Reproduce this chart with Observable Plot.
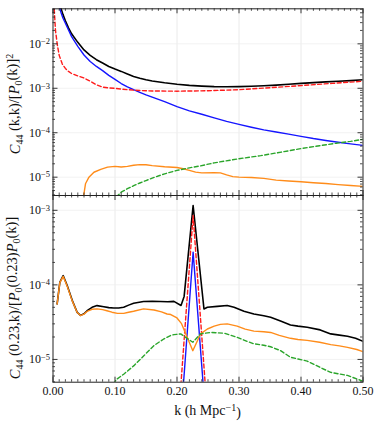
<!DOCTYPE html>
<html><head><meta charset="utf-8">
<script src="https://cdn.jsdelivr.net/npm/d3@7"></script>
<script src="https://cdn.jsdelivr.net/npm/@observablehq/plot@0.6"></script>
<style>
html,body{margin:0;padding:0;background:#fff;}
#chart{position:relative;width:374px;height:421px;font-family:"Liberation Serif",serif;}
#chart svg{position:absolute;left:0;}
</style></head><body><div id="chart"></div>
<script>
// ---------- DATA ----------
const xMajorTicks = [0, 0.1, 0.2, 0.3, 0.4, 0.5];
const xTickLabels = ["0.00", "0.10", "0.20", "0.30", "0.40", "0.50"];
const topYTicks = [1e-5, 1e-4, 1e-3, 1e-2];
const topYExp = ["−5", "−4", "−3", "−2"];
const botYTicks = [1e-5, 1e-4, 1e-3];
const botYExp = ["−5", "−4", "−3"];

// top panel: C44(k,k)/[P0(k)]^2
const topTotal = [[0.010,0.095],[0.013,0.062],[0.016,0.046],[0.02,0.033],[0.025,0.023],[0.03,0.0168],[0.04,0.0108],[0.05,0.0073],[0.06,0.0055],[0.07,0.0044],[0.08,0.0037],[0.09,0.0031],[0.10,0.0027],[0.11,0.0024],[0.12,0.0021],[0.13,0.00184],[0.14,0.00168],[0.15,0.00155],[0.16,0.00146],[0.18,0.00133],[0.20,0.00123],[0.22,0.00116],[0.24,0.00112],[0.26,0.00109],[0.28,0.00108],[0.30,0.00109],[0.32,0.00111],[0.34,0.00114],[0.36,0.00118],[0.38,0.00123],[0.40,0.00129],[0.42,0.00134],[0.44,0.00139],[0.46,0.00144],[0.48,0.00149],[0.50,0.00155]];
const topGauss = [[0.008,0.11],[0.011,0.062],[0.013,0.05],[0.016,0.038],[0.02,0.029],[0.025,0.0205],[0.03,0.0145],[0.04,0.0088],[0.05,0.0056],[0.06,0.0040],[0.07,0.0031],[0.08,0.0025],[0.09,0.00195],[0.10,0.00158],[0.11,0.00128],[0.12,0.00108],[0.13,0.00093],[0.14,0.00081],[0.15,0.00071],[0.16,0.00063],[0.18,0.0005],[0.20,0.000385],[0.22,0.00031],[0.24,0.00026],[0.26,0.000215],[0.28,0.00018],[0.30,0.000154],[0.32,0.000133],[0.34,0.000116],[0.36,0.000104],[0.38,0.000093],[0.40,0.000083],[0.42,0.000074],[0.44,0.000067],[0.46,0.000061],[0.48,0.000056],[0.50,0.000052]];
const topConn = [[0.002,0.06],[0.004,0.02],[0.007,0.0095],[0.01,0.0055],[0.015,0.0035],[0.02,0.0028],[0.025,0.0024],[0.03,0.00215],[0.04,0.0019],[0.05,0.0017],[0.06,0.00145],[0.07,0.0012],[0.08,0.00106],[0.09,0.00102],[0.10,0.001],[0.11,0.00096],[0.12,0.00093],[0.14,0.00089],[0.16,0.00087],[0.20,0.00086],[0.25,0.00088],[0.30,0.00093],[0.35,0.00103],[0.40,0.00115],[0.45,0.00129],[0.50,0.00144]];
const topMixed = [[0.049,3.5e-6],[0.0524,7.1e-6],[0.058,1.0e-5],[0.066,1.29e-5],[0.077,1.5e-5],[0.088,1.68e-5],[0.1,1.75e-5],[0.11,1.7e-5],[0.12,1.75e-5],[0.13,1.85e-5],[0.14,1.92e-5],[0.15,1.9e-5],[0.16,1.82e-5],[0.18,1.72e-5],[0.2,1.65e-5],[0.21,1.55e-5],[0.22,1.42e-5],[0.23,1.3e-5],[0.24,1.25e-5],[0.26,1.26e-5],[0.27,1.25e-5],[0.28,1.13e-5],[0.29,1.03e-5],[0.30,1.0e-5],[0.32,9.8e-6],[0.34,9.4e-6],[0.36,8.6e-6],[0.38,8.2e-6],[0.40,7.9e-6],[0.42,7.5e-6],[0.44,7.2e-6],[0.46,6.8e-6],[0.48,6.5e-6],[0.50,6.2e-6]];
const topNonG = [[0.102,3.6e-6],[0.11,4.6e-6],[0.12,5.5e-6],[0.131,6.5e-6],[0.14,7.4e-6],[0.15,8.4e-6],[0.16,9.5e-6],[0.172,1.09e-5],[0.18,1.19e-5],[0.2,1.42e-5],[0.22,1.62e-5],[0.238,1.8e-5],[0.26,2.1e-5],[0.3,2.6e-5],[0.335,3.05e-5],[0.37,3.7e-5],[0.4,4.4e-5],[0.43,5.1e-5],[0.457,5.8e-5],[0.48,6.4e-5],[0.5,7.1e-5]];

// bottom panel: C44(0.23,k)/[P0(0.23)P0(k)]
const botTotal = [[0.0067,5.55e-5],[0.011,1.08e-4],[0.0164,1.33e-4],[0.0229,9.8e-5],[0.031,6.2e-5],[0.039,4.28e-5],[0.0444,3.9e-5],[0.05,4.1e-5],[0.055,4.5e-5],[0.063,5.0e-5],[0.071,5.27e-5],[0.082,5.1e-5],[0.09,4.95e-5],[0.098,4.9e-5],[0.106,4.9e-5],[0.114,5.0e-5],[0.122,5.35e-5],[0.13,5.67e-5],[0.146,5.97e-5],[0.16,6.0e-5],[0.173,5.97e-5],[0.185,5.95e-5],[0.195,6.0e-5],[0.2065,5.3e-5],[0.2115,7.0e-5],[0.226,1.16e-3],[0.2435,4.75e-5],[0.249,5.0e-5],[0.265,5.15e-5],[0.281,5.3e-5],[0.292,5.0e-5],[0.308,4.43e-5],[0.324,4.07e-5],[0.34,3.85e-5],[0.351,3.67e-5],[0.368,3.24e-5],[0.383,2.9e-5],[0.395,2.8e-5],[0.41,2.7e-5],[0.431,2.49e-5],[0.448,2.2e-5],[0.462,2.12e-5],[0.475,2.05e-5],[0.488,1.92e-5],[0.5,1.75e-5]];
const botGauss = [[0.208,2.5e-6],[0.226,2.75e-4],[0.245,2.3e-6]];
const botConn = [[0.204,2.5e-6],[0.226,8.5e-4],[0.248,2.4e-6]];
const botMixed = [[0.0067,5.55e-5],[0.011,1.07e-4],[0.0164,1.3e-4],[0.0229,9.6e-5],[0.031,6.1e-5],[0.039,4.25e-5],[0.0444,3.88e-5],[0.05,4.05e-5],[0.055,4.4e-5],[0.063,4.7e-5],[0.071,4.77e-5],[0.08,4.65e-5],[0.087,4.5e-5],[0.095,4.3e-5],[0.104,4.15e-5],[0.114,4.15e-5],[0.122,4.3e-5],[0.13,4.43e-5],[0.146,4.77e-5],[0.163,4.6e-5],[0.175,4.35e-5],[0.184,4.07e-5],[0.19,4.0e-5],[0.2,3.6e-5],[0.207,3.05e-5],[0.2255,1.31e-5],[0.238,2.2e-5],[0.249,2.56e-5],[0.26,2.8e-5],[0.27,2.95e-5],[0.281,3.0e-5],[0.297,2.8e-5],[0.31,2.55e-5],[0.324,2.4e-5],[0.34,2.35e-5],[0.351,2.3e-5],[0.365,2.1e-5],[0.383,1.92e-5],[0.395,1.85e-5],[0.41,1.8e-5],[0.43,1.7e-5],[0.448,1.58e-5],[0.462,1.52e-5],[0.475,1.45e-5],[0.49,1.36e-5],[0.5,1.27e-5]];
const botNonG = [[0.097,4.7e-6],[0.1035,5.47e-6],[0.1145,6.38e-6],[0.1305,8.25e-6],[0.1465,1.12e-5],[0.1626,1.53e-5],[0.1787,1.88e-5],[0.19,2.1e-5],[0.195,2.15e-5],[0.206,2.2e-5],[0.2255,1.7e-5],[0.238,2.2e-5],[0.254,2.3e-5],[0.276,2.25e-5],[0.297,1.98e-5],[0.313,1.75e-5],[0.324,1.62e-5],[0.34,1.55e-5],[0.351,1.48e-5],[0.367,1.31e-5],[0.383,1.07e-5],[0.41,9.5e-6],[0.431,7.8e-6],[0.448,6.7e-6],[0.475,6.1e-6],[0.5,5.1e-6]];

const colors = {total:"#000000", gauss:"#1515ff", conn:"#ff1a1a", mixed:"#ff8c1a", nong:"#2aa52a"};

(function () {
const W = 374, mL = 52.5, mR = 11.5;
const frameW = W - mL - mR;

function minorTicks(domain) {
  const out = [];
  for (let e = -8; e <= 0; e++) for (let m = 2; m < 10; m++) {
    const v = m * Math.pow(10, e);
    if (v > domain[0] && v < domain[1]) out.push(v);
  }
  return out;
}

function panel({height, marginTop, marginBottom, yDomain, yTicks, yExp, series, xLabels}) {
  const frameH = height - marginTop - marginBottom;
  const xMinor = d3.range(1, 50).map(i => i / 100).filter(v => Math.abs(v * 10 - Math.round(v * 10)) > 1e-6);
  const yMinor = minorTicks(yDomain);
  const tick = "#222";
  const marks = [
    Plot.ruleX(xMajorTicks.slice(1, -1), {stroke: "#e4e4e4", strokeWidth: 0.8}),
    Plot.ruleY(yTicks, {stroke: "#efefef", strokeWidth: 0.8}),
  ];
  for (const s of series) {
    marks.push(Plot.line(s.data, {x: d => d[0], y: d => d[1], stroke: s.color, strokeWidth: s.width,
      strokeDasharray: s.dash, clip: true}));
  }
  marks.push(
    Plot.ruleX(xMinor, {insetTop: frameH - 2.5, stroke: tick, strokeWidth: 0.8}),
    Plot.ruleX(xMinor, {insetBottom: frameH - 2.5, stroke: tick, strokeWidth: 0.8}),
    Plot.ruleX(xMajorTicks, {insetTop: frameH - 5, stroke: tick, strokeWidth: 0.9}),
    Plot.ruleX(xMajorTicks, {insetBottom: frameH - 5, stroke: tick, strokeWidth: 0.9}),
    Plot.ruleY(yMinor, {insetRight: frameW - 2.5, stroke: tick, strokeWidth: 0.8}),
    Plot.ruleY(yMinor, {insetLeft: frameW - 2.5, stroke: tick, strokeWidth: 0.8}),
    Plot.ruleY(yTicks, {insetRight: frameW - 5, stroke: tick, strokeWidth: 0.9}),
    Plot.ruleY(yTicks, {insetLeft: frameW - 5, stroke: tick, strokeWidth: 0.9}),
    Plot.frame({stroke: "#222", strokeWidth: 1}),
    Plot.axisY({ticks: yTicks, tickSize: 0, tickPadding: 3, label: null, fontSize: 12,
      tickFormat: d => "10|" + yExp[yTicks.indexOf(d)]})
  );
  if (xLabels) marks.push(Plot.axisX({ticks: xMajorTicks, tickSize: 0, tickPadding: 4, label: null, fontSize: 12,
      tickFormat: d => xTickLabels[xMajorTicks.indexOf(d)]}));
  const xOpts = {domain: [0, 0.5]};
  if (!xLabels) xOpts.axis = null;
  const svg = Plot.plot({
    width: W, height, marginLeft: mL, marginRight: mR, marginTop, marginBottom,
    style: {fontFamily: '"Liberation Serif", serif', fontSize: "12px", color: "#111", background: "transparent"},
    x: xOpts,
    y: {type: "log", domain: yDomain},
    marks
  });
  d3.select(svg).selectAll('g[aria-label="y-axis tick label"] text').each(function() {
    const parts = this.textContent.split("|");
    if (parts.length !== 2) return;
    const t = d3.select(this);
    t.text(parts[0]);
    t.append("tspan").attr("dy", "-0.42em").attr("font-size", "8.5px").text(parts[1]);
  });
  return svg;
}

const chart = document.getElementById("chart");
const series = (tot, ga, co, mi, ng) => [
  {data: tot, color: colors.total, width: 1.6},
  {data: ga, color: colors.gauss, width: 1.4},
  {data: co, color: colors.conn, width: 1.4, dash: "4,2.5"},
  {data: mi, color: colors.mixed, width: 1.4},
  {data: ng, color: colors.nong, width: 1.4, dash: "4,2.5"}
];

const topSvg = panel({height: 196, marginTop: 8.3, marginBottom: 1, yDomain: [3.87e-6, 0.0614],
  yTicks: topYTicks, yExp: topYExp, series: series(topTotal, topGauss, topConn, topMixed, topNonG), xLabels: false});
topSvg.style.top = "0px";

const botSvg = panel({height: 231, marginTop: 5, marginBottom: 39.3, yDomain: [4.95e-6, 1.58e-3],
  yTicks: botYTicks, yExp: botYExp, series: series(botTotal, botGauss, botConn, botMixed, botNonG), xLabels: true});
botSvg.style.top = "190px";
chart.appendChild(botSvg);
chart.appendChild(topSvg);

const subSize = "10px";
function yTitle(svg, cy, build) {
  const t = d3.select(svg).append("text")
    .attr("transform", `translate(20,${cy}) rotate(-90)`)
    .attr("text-anchor", "middle").attr("font-size", "14.5px").attr("fill", "#111")
    .attr("font-family", '"Liberation Serif", serif');
  build(t);
}
yTitle(topSvg, 104, t => {
  t.append("tspan").attr("font-style", "italic").text("C");
  t.append("tspan").attr("dy", "0.3em").attr("font-size", subSize).text("44");
  t.append("tspan").attr("dy", "-0.3em").text(" (k,k)/[");
  t.append("tspan").attr("font-style", "italic").text("P");
  t.append("tspan").attr("dy", "0.3em").attr("font-size", subSize).text("0");
  t.append("tspan").attr("dy", "-0.3em").text("(k)]");
  t.append("tspan").attr("dy", "-0.4em").attr("font-size", subSize).text("2");
});
yTitle(botSvg, 108, t => {
  t.append("tspan").attr("font-style", "italic").text("C");
  t.append("tspan").attr("dy", "0.3em").attr("font-size", subSize).text("44");
  t.append("tspan").attr("dy", "-0.3em").text(" (0.23,k)/[");
  t.append("tspan").attr("font-style", "italic").text("P");
  t.append("tspan").attr("dy", "0.3em").attr("font-size", subSize).text("0");
  t.append("tspan").attr("dy", "-0.3em").text("(0.23)");
  t.append("tspan").attr("font-style", "italic").text("P");
  t.append("tspan").attr("dy", "0.3em").attr("font-size", subSize).text("0");
  t.append("tspan").attr("dy", "-0.3em").text("(k)]");
});
{
  const t = d3.select(botSvg).append("text")
    .attr("x", mL + frameW / 2).attr("y", 225)
    .attr("text-anchor", "middle").attr("font-size", "14px").attr("fill", "#111")
    .attr("font-family", '"Liberation Serif", serif');
  t.append("tspan").text("k (h Mpc");
  t.append("tspan").attr("dy", "-0.42em").attr("font-size", subSize).text("−1");
  t.append("tspan").attr("dy", "0.42em").text(")");
}
})();
</script></body></html>
